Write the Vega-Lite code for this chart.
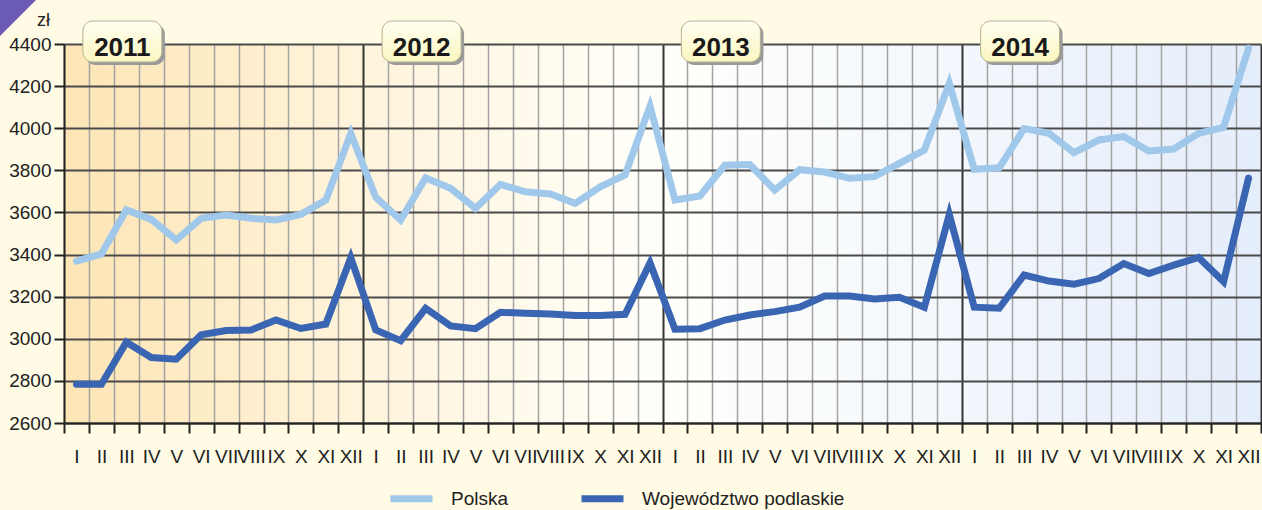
{
  "$schema": "https://vega.github.io/schema/vega-lite/v6.json",
  "width": 1197,
  "height": 379,
  "autosize": {"type": "none"},
  "padding": {"left": 64, "top": 44, "right": 1, "bottom": 87},
  "background": "#fffbe5",
  "datasets": {
    "main": [
      {"series": "Polska", "period": "2011-I", "value": 3369},
      {"series": "Polska", "period": "2011-II", "value": 3403},
      {"series": "Polska", "period": "2011-III", "value": 3612},
      {"series": "Polska", "period": "2011-IV", "value": 3567},
      {"series": "Polska", "period": "2011-V", "value": 3469},
      {"series": "Polska", "period": "2011-VI", "value": 3572},
      {"series": "Polska", "period": "2011-VII", "value": 3588},
      {"series": "Polska", "period": "2011-VIII", "value": 3572},
      {"series": "Polska", "period": "2011-IX", "value": 3564},
      {"series": "Polska", "period": "2011-X", "value": 3591},
      {"series": "Polska", "period": "2011-XI", "value": 3659},
      {"series": "Polska", "period": "2011-XII", "value": 3975},
      {"series": "Polska", "period": "2012-I", "value": 3672},
      {"series": "Polska", "period": "2012-II", "value": 3564},
      {"series": "Polska", "period": "2012-III", "value": 3764},
      {"series": "Polska", "period": "2012-IV", "value": 3715},
      {"series": "Polska", "period": "2012-V", "value": 3620},
      {"series": "Polska", "period": "2012-VI", "value": 3733},
      {"series": "Polska", "period": "2012-VII", "value": 3698},
      {"series": "Polska", "period": "2012-VIII", "value": 3688},
      {"series": "Polska", "period": "2012-IX", "value": 3643},
      {"series": "Polska", "period": "2012-X", "value": 3722},
      {"series": "Polska", "period": "2012-XI", "value": 3778},
      {"series": "Polska", "period": "2012-XII", "value": 4105},
      {"series": "Polska", "period": "2013-I", "value": 3659},
      {"series": "Polska", "period": "2013-II", "value": 3678},
      {"series": "Polska", "period": "2013-III", "value": 3824},
      {"series": "Polska", "period": "2013-IV", "value": 3828},
      {"series": "Polska", "period": "2013-V", "value": 3706},
      {"series": "Polska", "period": "2013-VI", "value": 3803},
      {"series": "Polska", "period": "2013-VII", "value": 3792},
      {"series": "Polska", "period": "2013-VIII", "value": 3762},
      {"series": "Polska", "period": "2013-IX", "value": 3770},
      {"series": "Polska", "period": "2013-X", "value": 3833},
      {"series": "Polska", "period": "2013-XI", "value": 3896},
      {"series": "Polska", "period": "2013-XII", "value": 4213},
      {"series": "Polska", "period": "2014-I", "value": 3805},
      {"series": "Polska", "period": "2014-II", "value": 3812},
      {"series": "Polska", "period": "2014-III", "value": 3998},
      {"series": "Polska", "period": "2014-IV", "value": 3976},
      {"series": "Polska", "period": "2014-V", "value": 3884},
      {"series": "Polska", "period": "2014-VI", "value": 3944},
      {"series": "Polska", "period": "2014-VII", "value": 3960},
      {"series": "Polska", "period": "2014-VIII", "value": 3892},
      {"series": "Polska", "period": "2014-IX", "value": 3901},
      {"series": "Polska", "period": "2014-X", "value": 3976},
      {"series": "Polska", "period": "2014-XI", "value": 4004},
      {"series": "Polska", "period": "2014-XII", "value": 4380},
      {"series": "Województwo podlaskie", "period": "2011-I", "value": 2784},
      {"series": "Województwo podlaskie", "period": "2011-II", "value": 2784},
      {"series": "Województwo podlaskie", "period": "2011-III", "value": 2984},
      {"series": "Województwo podlaskie", "period": "2011-IV", "value": 2911},
      {"series": "Województwo podlaskie", "period": "2011-V", "value": 2903},
      {"series": "Województwo podlaskie", "period": "2011-VI", "value": 3019},
      {"series": "Województwo podlaskie", "period": "2011-VII", "value": 3039},
      {"series": "Województwo podlaskie", "period": "2011-VIII", "value": 3042},
      {"series": "Województwo podlaskie", "period": "2011-IX", "value": 3089},
      {"series": "Województwo podlaskie", "period": "2011-X", "value": 3049},
      {"series": "Województwo podlaskie", "period": "2011-XI", "value": 3070},
      {"series": "Województwo podlaskie", "period": "2011-XII", "value": 3385},
      {"series": "Województwo podlaskie", "period": "2012-I", "value": 3042},
      {"series": "Województwo podlaskie", "period": "2012-II", "value": 2991},
      {"series": "Województwo podlaskie", "period": "2012-III", "value": 3145},
      {"series": "Województwo podlaskie", "period": "2012-IV", "value": 3061},
      {"series": "Województwo podlaskie", "period": "2012-V", "value": 3048},
      {"series": "Województwo podlaskie", "period": "2012-VI", "value": 3126},
      {"series": "Województwo podlaskie", "period": "2012-VII", "value": 3121},
      {"series": "Województwo podlaskie", "period": "2012-VIII", "value": 3118},
      {"series": "Województwo podlaskie", "period": "2012-IX", "value": 3110},
      {"series": "Województwo podlaskie", "period": "2012-X", "value": 3110},
      {"series": "Województwo podlaskie", "period": "2012-XI", "value": 3116},
      {"series": "Województwo podlaskie", "period": "2012-XII", "value": 3360},
      {"series": "Województwo podlaskie", "period": "2013-I", "value": 3045},
      {"series": "Województwo podlaskie", "period": "2013-II", "value": 3048},
      {"series": "Województwo podlaskie", "period": "2013-III", "value": 3089},
      {"series": "Województwo podlaskie", "period": "2013-IV", "value": 3113},
      {"series": "Województwo podlaskie", "period": "2013-V", "value": 3129},
      {"series": "Województwo podlaskie", "period": "2013-VI", "value": 3150},
      {"series": "Województwo podlaskie", "period": "2013-VII", "value": 3203},
      {"series": "Województwo podlaskie", "period": "2013-VIII", "value": 3203},
      {"series": "Województwo podlaskie", "period": "2013-IX", "value": 3189},
      {"series": "Województwo podlaskie", "period": "2013-X", "value": 3197},
      {"series": "Województwo podlaskie", "period": "2013-XI", "value": 3150},
      {"series": "Województwo podlaskie", "period": "2013-XII", "value": 3590},
      {"series": "Województwo podlaskie", "period": "2014-I", "value": 3150},
      {"series": "Województwo podlaskie", "period": "2014-II", "value": 3145},
      {"series": "Województwo podlaskie", "period": "2014-III", "value": 3303},
      {"series": "Województwo podlaskie", "period": "2014-IV", "value": 3274},
      {"series": "Województwo podlaskie", "period": "2014-V", "value": 3259},
      {"series": "Województwo podlaskie", "period": "2014-VI", "value": 3286},
      {"series": "Województwo podlaskie", "period": "2014-VII", "value": 3357},
      {"series": "Województwo podlaskie", "period": "2014-VIII", "value": 3310},
      {"series": "Województwo podlaskie", "period": "2014-IX", "value": 3350},
      {"series": "Województwo podlaskie", "period": "2014-X", "value": 3386},
      {"series": "Województwo podlaskie", "period": "2014-XI", "value": 3271},
      {"series": "Województwo podlaskie", "period": "2014-XII", "value": 3763}
    ],
    "years": [
      {"year": "2011", "period": "2011-III"},
      {"year": "2012", "period": "2012-III"},
      {"year": "2013", "period": "2013-III"},
      {"year": "2014", "period": "2014-III"}
    ],
    "corner": [{"name": "corner"}]
  },
  "layer": [
    {
      "data": {"name": "main"},
      "mark": {"type": "line", "strokeWidth": 7, "strokeCap": "round", "strokeJoin": "miter"},
      "encoding": {
        "x": {
          "field": "period", "type": "ordinal", "sort": null,
          "scale": {"type": "band", "paddingInner": 0, "paddingOuter": 0},
          "axis": {
            "title": null,
            "labelExpr": "split(datum.value, '-')[1]",
            "labelAngle": 0,
            "labelOverlap": false,
            "labelPadding": 14,
            "tickBand": "extent",
            "tickSize": 10,
            "tickWidth": 2,
            "tickColor": "#222222",
            "domainColor": "#222222",
            "domainWidth": 2,
            "grid": true,
            "gridColor": {"condition": {"test": "split(datum.value, '-')[1] === 'XII'", "value": "#333333"}, "value": "#a3a3a3"},
            "gridWidth": {"condition": {"test": "split(datum.value, '-')[1] === 'XII'", "value": 2}, "value": 1.5}
          }
        },
        "y": {
          "field": "value", "type": "quantitative",
          "scale": {"domain": [2600, 4400], "nice": false, "zero": false},
          "axis": {
            "values": [2600, 2800, 3000, 3200, 3400, 3600, 3800, 4000, 4200, 4400],
            "format": "d",
            "title": "zł",
            "titleAngle": 0,
            "titleX": -21,
            "titleY": -24,
            "titleAlign": "center",
            "titleBaseline": "middle",
            "titleFontWeight": "normal",
            "titleFontSize": 18,
            "titleFont": "Liberation Sans, sans-serif",
            "titleColor": "#222222",
            "tickSize": 10,
            "tickWidth": 2,
            "tickColor": "#222222",
            "labelPadding": 3,
            "domainColor": "#222222",
            "domainWidth": 2,
            "grid": true,
            "gridColor": "#4a4a4a",
            "gridWidth": 2
          }
        },
        "color": {
          "field": "series", "type": "nominal",
          "scale": {"domain": ["Polska", "Województwo podlaskie"], "range": ["#a0c8eb", "#3a65b2"]},
          "legend": {
            "title": null,
            "orient": "none",
            "legendX": 323,
            "legendY": 430,
            "direction": "horizontal",
            "symbolType": "stroke",
            "symbolStrokeWidth": 7,
            "symbolSize": 1764,
            "labelOffset": 15,
            "labelLimit": 400,
            "columnPadding": 58,
            "padding": 0
          }
        }
      }
    },
    {
      "data": {"name": "years"},
      "mark": {"type": "point", "shape": "M-29.5,-20.5H29.5A10,10,0,0,1,39.5,-10.5V10.5A10,10,0,0,1,29.5,20.5H-29.5A10,10,0,0,1,-39.5,10.5V-10.5A10,10,0,0,1,-29.5,-20.5Z", "size": 4, "filled": true, "opacity": 1, "fill": "#9a9a9a", "strokeWidth": 0, "xOffset": -1, "yOffset": 0.5},
      "encoding": {
        "x": {"field": "period", "type": "ordinal", "sort": null},
        "y": {"datum": 4400}
      }
    },
    {
      "data": {"name": "years"},
      "mark": {"type": "point", "shape": "M-29.5,-20.5H29.5A10,10,0,0,1,39.5,-10.5V10.5A10,10,0,0,1,29.5,20.5H-29.5A10,10,0,0,1,-39.5,10.5V-10.5A10,10,0,0,1,-29.5,-20.5Z", "size": 4, "filled": true, "opacity": 1,
        "fill": {"gradient": "linear", "x1": 0, "y1": 0, "x2": 0, "y2": 1, "stops": [{"offset": 0, "color": "#fffff2"}, {"offset": 1, "color": "#fbf6c0"}]},
        "stroke": "#b5b28f", "strokeWidth": 1, "xOffset": -4, "yOffset": -2.5},
      "encoding": {
        "x": {"field": "period", "type": "ordinal", "sort": null},
        "y": {"datum": 4400}
      }
    },
    {
      "data": {"name": "years"},
      "mark": {"type": "text", "font": "Liberation Sans, sans-serif", "fontSize": 26, "fontWeight": "bold", "color": "#1a1a1a", "align": "center", "baseline": "alphabetic", "xOffset": -4, "yOffset": 12},
      "encoding": {
        "x": {"field": "period", "type": "ordinal", "sort": null},
        "y": {"datum": 4400},
        "text": {"field": "year"}
      }
    },
    {
      "data": {"name": "corner"},
      "mark": {"type": "point", "shape": "M-76.5,-44L-40.5,-44L-76.5,-8Z", "size": 4, "filled": true, "opacity": 1, "fill": "#6b5bb6", "strokeWidth": 0},
      "encoding": {
        "x": {"datum": "2011-I", "type": "ordinal"},
        "y": {"datum": 4400}
      }
    }
  ],
  "config": {
    "view": {
      "stroke": null,
      "fill": {"gradient": "linear", "x1": 0, "y1": 0, "x2": 1, "y2": 0, "stops": [
        {"offset": 0, "color": "#fde5b5"},
        {"offset": 0.25, "color": "#fff4dc"},
        {"offset": 0.5, "color": "#fffffa"},
        {"offset": 0.75, "color": "#f3f7fd"},
        {"offset": 1, "color": "#e4edfa"}
      ]}
    },
    "font": "Liberation Sans, sans-serif",
    "axis": {
      "labelFont": "Liberation Sans, sans-serif",
      "labelFontSize": 19,
      "labelColor": "#222222"
    },
    "legend": {
      "labelFont": "Liberation Sans, sans-serif",
      "labelFontSize": 19,
      "labelColor": "#222222"
    }
  }
}
